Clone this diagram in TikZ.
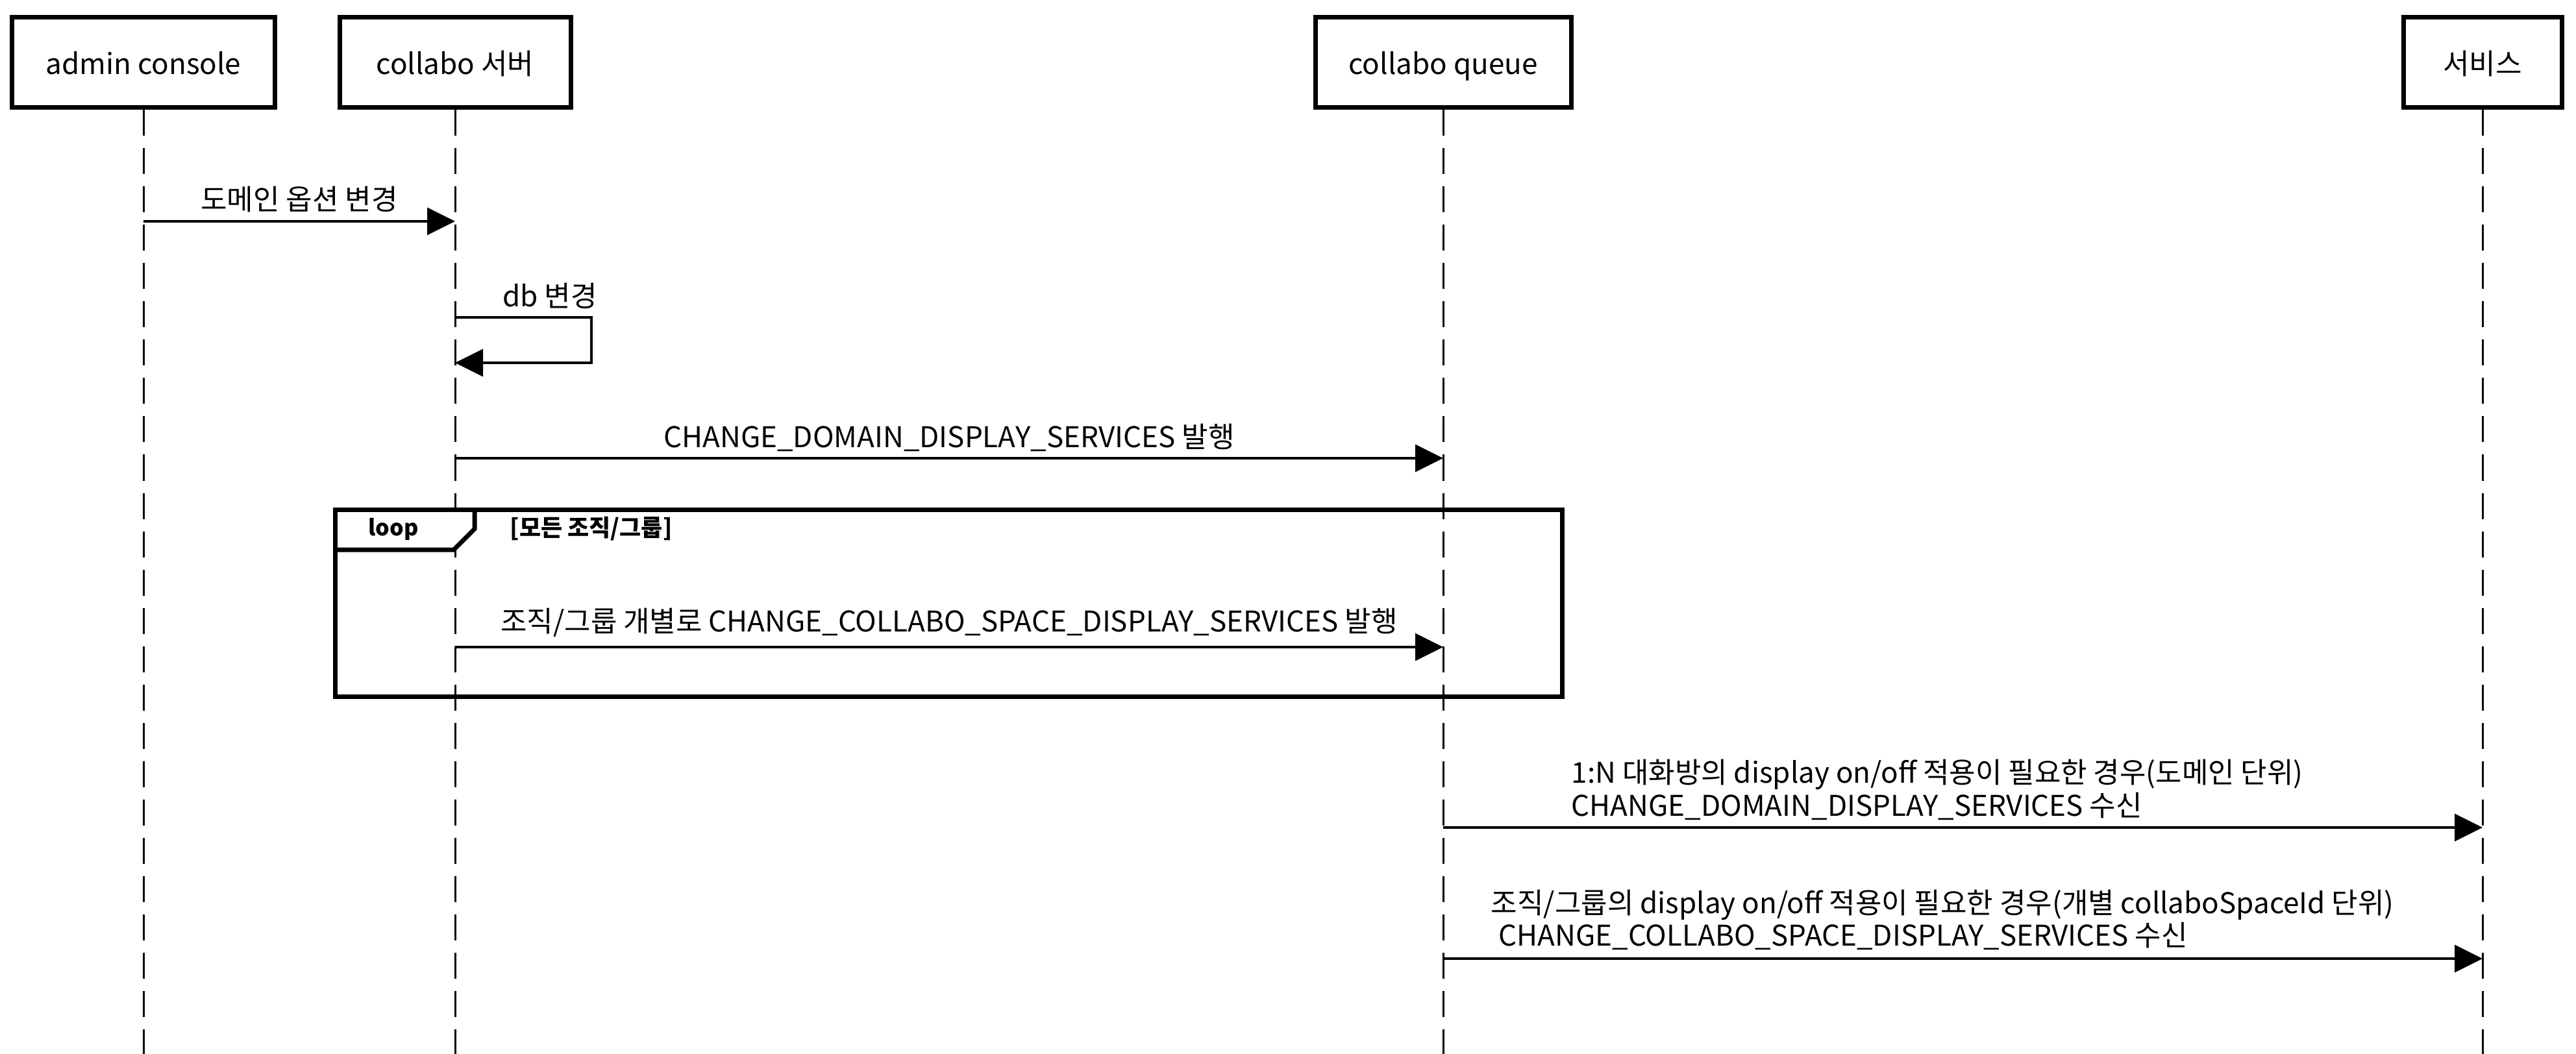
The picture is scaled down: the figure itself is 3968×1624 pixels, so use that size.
\documentclass[tikz,border=0pt]{standalone}
\usepackage{fontspec}
\setmainfont{Noto Sans CJK KR}
\usetikzlibrary{arrows.meta}
\begin{document}
\begin{tikzpicture}[x=0.25pt,y=-0.25pt,
  participant/.style={draw, line width=1.75pt, minimum height=34.75pt, inner sep=0pt, fill=white, text height=11pt, text depth=1.75pt, font=\fontsize{11}{13}\selectfont},
  lifeline/.style={line width=0.75pt, dash pattern=on 10pt off 4.75pt},
  msg/.style={line width=0.9pt, -{Triangle[length=10.75pt,width=10.5pt]}},
  lbl/.style={inner sep=0pt, font=\fontsize{11}{11.5}\selectfont},
  frame/.style={line width=1.75pt},
  framelbl/.style={inner sep=0pt, font=\fontsize{8.5}{10}\selectfont\bfseries}
]
\useasboundingbox (0,0) rectangle (3968,1624);

% participants
\node[participant, minimum width=101.25pt] (admin)  at (221,96.5)  {admin console};
\node[participant, minimum width=89pt]     (server) at (701,96.5)  {collabo 서버};
\node[participant, minimum width=98.5pt]   (queue)  at (2223,96.5) {collabo queue};
\node[participant, minimum width=61pt]     (svc)    at (3824,96.5) {서비스};

% lifelines
\coordinate (adminEnd)  at (221,1624);
\coordinate (serverEnd) at (701,1624);
\coordinate (queueEnd)  at (2223,1624);
\coordinate (svcEnd)    at (3824,1624);
\draw[lifeline] (admin.south)  -- (adminEnd);
\draw[lifeline] (server.south) -- (serverEnd);
\draw[lifeline] (queue.south)  -- (queueEnd);
\draw[lifeline] (svc.south)    -- (svcEnd);

% message 1
\coordinate (m1s) at (221,341);
\coordinate (m1e) at (701,341);
\draw[msg] (m1s) -- (m1e);
\node[lbl] (l1) at (461,307) {도메인 옵션 변경};

% self message
\coordinate (m2s) at (701,489);
\coordinate (m2e) at (701,559);
\draw[msg] (m2s) -- ++(210,0) |- (m2e);
\node[lbl] (l2) at (847,456) {db 변경};

% message 3
\coordinate (m3s) at (701,706);
\coordinate (m3e) at (2223,706);
\draw[msg] (m3s) -- (m3e);
\node[lbl] (l3) at (1462,674) {CHANGE\_DOMAIN\_DISPLAY\_SERVICES 발행};

% loop frame
\coordinate (fTL) at (516,785);
\coordinate (fBR) at (2406,1073);
\fill[white] (516,785) -- (731,785) -- (731,815) -- (699,847) -- (516,847) -- cycle;
\draw[frame] (fTL) rectangle (fBR);
\draw[frame, line join=miter] (731,785) -- (731,815) -- (699,847) -- (516,847);
\node[framelbl] (loopl) at (606,815) {loop};
\node[framelbl, anchor=west, font=\fontsize{9}{10}\selectfont\bfseries] (cond) at (785,815) {[모든 조직/그룹]};

% message 4
\coordinate (m4s) at (701,997);
\coordinate (m4e) at (2223,997);
\draw[msg] (m4s) -- (m4e);
\node[lbl] (l4) at (1462,959) {조직/그룹 개별로 CHANGE\_COLLABO\_SPACE\_DISPLAY\_SERVICES 발행};

% message 5
\coordinate (m5s) at (2223,1275);
\coordinate (m5e) at (3824,1275);
\draw[msg] (m5s) -- (m5e);
\node[lbl, align=left, anchor=west] (l5) at (2420,1217) {1:N 대화방의 display on/off 적용이 필요한 경우(도메인 단위)\\CHANGE\_DOMAIN\_DISPLAY\_SERVICES 수신};

% message 6
\coordinate (m6s) at (2223,1477);
\coordinate (m6e) at (3824,1477);
\draw[msg] (m6s) -- (m6e);
\node[lbl, align=left, anchor=west, font=\fontsize{11}{12.5}\selectfont] (l6) at (2296,1417) {조직/그룹의 display on/off 적용이 필요한 경우(개별 collaboSpaceId 단위)\\\hspace*{3pt}CHANGE\_COLLABO\_SPACE\_DISPLAY\_SERVICES 수신};

\end{tikzpicture}
\end{document}
